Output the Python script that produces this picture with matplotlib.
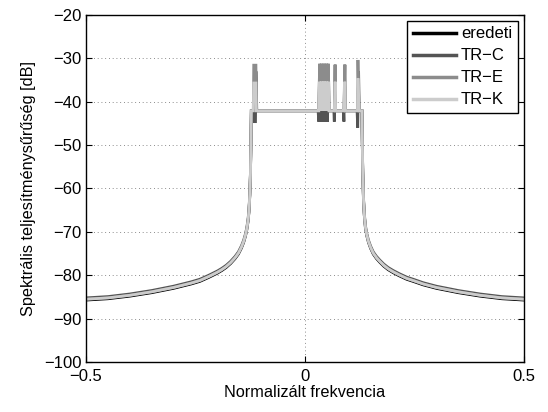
import matplotlib
matplotlib.use("Agg")
import matplotlib.pyplot as plt

plt.rcParams["font.family"] = ["Liberation Sans", "DejaVu Sans"]

# frekvenciák a sávon kívül (bal / jobb oldal)
f_left = [-0.5, -0.45, -0.40, -0.35, -0.30, -0.28, -0.26, -0.24, -0.22, -0.20, -0.19, -0.18,
          -0.17, -0.16, -0.152, -0.145, -0.140, -0.136, -0.133, -0.130, -0.128,
          -0.126, -0.1245, -0.1235, -0.1225]
f_right = [0.130, 0.131, 0.132, 0.1335, 0.1355, 0.138, 0.141, 0.145, 0.150, 0.156,
           0.163, 0.171, 0.180, 0.19, 0.2016, 0.215, 0.232, 0.25, 0.27, 0.30,
           0.35, 0.40, 0.45, 0.50]

# sávon kívüli szintek [dB]
base_left = [-85.5, -85.2, -84.6, -83.8, -82.8, -82.3, -81.8, -81.2, -80.3, -79.3, -78.7, -78.0,
             -77.1, -76.0, -74.9, -73.5, -72.2, -70.8, -69.4, -67.4, -65.3,
             -61.5, -56.5, -50.5, -42.1]
base_right = [-42.1, -50.0, -56.0, -62.0, -66.0, -68.8, -70.6, -72.2, -73.6, -74.9,
              -75.9, -76.8, -77.7, -78.5, -79.2, -79.9, -80.7, -81.3, -82.0, -82.8,
              -83.8, -84.6, -85.2, -85.5]
ered_left = [-85.7, -85.4, -84.8, -84.0, -83.0, -82.5, -82.0, -81.4, -80.5, -79.5, -78.9, -78.2,
             -77.3, -76.2, -75.1, -73.7, -72.4, -71.0, -69.6, -67.6, -65.5,
             -61.7, -56.7, -50.7, -42.1]
ered_right = [-42.1, -50.2, -56.2, -62.2, -66.2, -69.0, -70.8, -72.4, -73.8, -75.1,
              -76.1, -77.0, -77.9, -78.7, -79.4, -80.1, -80.9, -81.5, -82.2, -83.0,
              -84.0, -84.8, -85.4, -85.7]
trc_left = [-85.2, -84.9, -84.3, -83.5, -82.5, -82.0, -81.5, -80.9, -80.0, -79.0, -78.4, -77.7,
            -76.8, -75.7, -74.6, -73.2, -71.9, -70.5, -69.1, -67.1, -65.0,
            -61.2, -56.2, -50.2, -42.1]
trc_right = [-42.1, -49.7, -55.7, -61.7, -65.7, -68.5, -70.3, -71.9, -73.3, -74.6,
             -75.6, -76.5, -77.4, -78.2, -78.9, -79.6, -80.4, -81.0, -81.7, -82.5,
             -83.5, -84.3, -84.9, -85.2]

# sávon belüli rész (tüskékkel)
f_in_ered = [-0.1225, 0.130]
db_in_ered = [-42.1, -42.1]

f_in_c = [-0.1225, -0.119, -0.118, -0.113, -0.112, -0.110, 0.030,
          0.0315, 0.0335, 0.0355, 0.0375, 0.0395, 0.0415, 0.0435, 0.0455, 0.0475, 0.0495, 0.0515, 0.0535,
          0.055, 0.066, 0.067, 0.069, 0.070, 0.088, 0.089, 0.091, 0.092,
          0.119, 0.1205, 0.1225, 0.124, 0.130]
db_in_c = [-42.1, -42.1, -44.6, -44.6, -33.0, -42.1, -42.1,
           -44.6, -31.3, -44.6, -31.3, -44.6, -31.3, -44.6, -31.3, -44.6, -31.3, -44.6, -31.3,
           -42.1, -42.1, -44.6, -31.5, -42.1, -42.1, -44.6, -31.5, -42.1,
           -42.1, -46.0, -33.0, -42.1, -42.1]

f_in_e = [-0.1225, -0.118, -0.117, -0.112, -0.111, 0.030,
          0.0315, 0.0335, 0.0355, 0.0375, 0.0395, 0.0415, 0.0435, 0.0455, 0.0475, 0.0495, 0.0515, 0.0535,
          0.055, 0.066, 0.067, 0.069, 0.070, 0.088, 0.089, 0.091, 0.092,
          0.120, 0.121, 0.1235, 0.130]
db_in_e = [-42.1, -42.1, -31.6, -31.6, -42.1, -42.1,
           -42.1, -31.3, -42.1, -31.3, -42.1, -31.3, -42.1, -31.3, -42.1, -31.3, -42.1, -31.3,
           -42.1, -42.1, -42.1, -31.5, -42.1, -42.1, -42.1, -31.5, -42.1,
           -42.1, -30.4, -42.1, -42.1]

f_in_k = [-0.1225, -0.118, -0.117, -0.112, -0.111, 0.030,
          0.0315, 0.0335, 0.0355, 0.0375, 0.0395, 0.0415, 0.0435, 0.0455, 0.0475, 0.0495, 0.0515, 0.0535,
          0.055, 0.066, 0.067, 0.069, 0.070, 0.088, 0.089, 0.091, 0.092,
          0.120, 0.121, 0.1235, 0.130]
db_in_k = [-42.1, -42.1, -35.7, -35.7, -42.1, -42.1,
           -42.1, -35.4, -42.1, -35.4, -42.1, -35.4, -42.1, -35.4, -42.1, -35.4, -42.1, -35.4,
           -42.1, -42.1, -42.1, -35.4, -42.1, -42.1, -42.1, -35.4, -42.1,
           -42.1, -34.6, -42.1, -42.1]

labels = ["eredeti", "TR\u2212C", "TR\u2212E", "TR\u2212K"]
colors = ["black", "0.33", "0.55", "0.80"]

series = [
    (f_left + f_in_ered + f_right, ered_left + db_in_ered + ered_right),
    (f_left + f_in_c + f_right, trc_left + db_in_c + trc_right),
    (f_left + f_in_e + f_right, base_left + db_in_e + base_right),
    (f_left + f_in_k + f_right, base_left + db_in_k + base_right),
]

fig = plt.figure(figsize=(5.48, 4.12), dpi=100)
ax = fig.add_axes([0.157, 0.121, 0.799, 0.843])

for (f, db), lab, col in zip(series, labels, colors):
    ax.plot(f, db, color=col, lw=2.0, label=lab, solid_joinstyle="miter")

ax.set_xlim(-0.5, 0.5)
ax.set_ylim(-100, -20)
ax.set_xticks([-0.5, 0, 0.5])
ax.set_xticklabels(["\u22120.5", "0", "0.5"])
ax.set_yticks(range(-100, -19, 10))
ax.grid(True, color="0.4", linestyle=(0, (1, 3.5)), linewidth=0.6)
ax.tick_params(direction="in", top=True, right=True, labelsize=12, length=4)
ax.tick_params(axis="x", pad=5)
ax.tick_params(axis="y", pad=3)
for sp in ax.spines.values():
    sp.set_linewidth(1.0)

ax.set_xlabel("Normalizált frekvencia", fontsize=11.7, labelpad=1)
ax.set_ylabel("Spektrális teljesítménysűrűség [dB]", fontsize=11.7, labelpad=6)

leg = ax.legend(loc="upper right", fontsize=12, fancybox=False, framealpha=1,
                edgecolor="black", handlelength=2.6, borderpad=0.35,
                labelspacing=0.42, handletextpad=0.3, borderaxespad=0.35)
leg.get_frame().set_linewidth(1.0)
for line in leg.get_lines():
    line.set_linewidth(2.5)

fig.savefig("out.png", dpi=100)
